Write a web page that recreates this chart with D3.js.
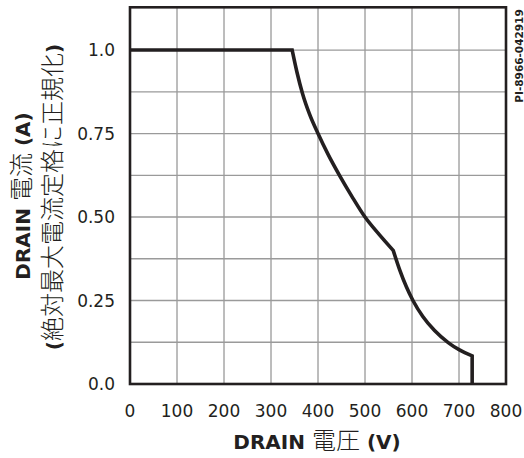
<!DOCTYPE html>
<html>
<head>
<meta charset="utf-8">
<script src="https://cdn.jsdelivr.net/npm/d3@7"></script>
<style>
  body { margin: 0; background: #fff; }
  svg { display: block; }
</style>
</head>
<body>
<svg id="chart" width="524" height="458"></svg>
<script>
// data (V = drain voltage, I = normalised drain current)
const flatV = [0, 345];
const flatI = [1.0, 1.0];
const seg1V = [345, 355, 367, 382, 400, 422, 446, 472, 500, 530, 560];
const seg1I = [1.0, 0.935, 0.870, 0.808, 0.750, 0.686, 0.624, 0.562, 0.500, 0.448, 0.400];
const seg2V = [560, 574, 588, 602, 623, 648, 677, 701, 728];
const seg2I = [0.400, 0.341, 0.291, 0.250, 0.202, 0.160, 0.124, 0.102, 0.084];
const dropV = [728, 728];
const dropI = [0.084, 0];

const xTicks = [0, 100, 200, 300, 400, 500, 600, 700, 800];
const yTicks = [0, 0.25, 0.5, 0.75, 1.0];
const yTickLabels = ["0.0", "0.25", "0.50", "0.75", "1.0"];
const yGrid = [0.125, 0.25, 0.375, 0.5, 0.625, 0.75, 0.875, 1.0];

const left_margin = 130, right_edge = 506, top_edge = 7.3, bottom_edge = 384;
const ink = "#231f20";
const latin = "'DejaVu Sans', Verdana, sans-serif";
const cjk = "'Noto Sans CJK JP', sans-serif";

const svg = d3.select("#chart");

const x = d3.scaleLinear().domain([0, 800]).range([left_margin, right_edge]);
const y = d3.scaleLinear().domain([0, 1.128]).range([bottom_edge, top_edge]);

//grid lines
svg.append("g").selectAll("line")
    .data(xTicks.slice(1, -1))
    .enter().append("line")
    .attr("x1", d => x(d)).attr("x2", d => x(d))
    .attr("y1", top_edge).attr("y2", bottom_edge)
    .attr("stroke", "#7a7a7a").attr("stroke-width", 1);
svg.append("g").selectAll("line")
    .data(yGrid)
    .enter().append("line")
    .attr("x1", left_margin).attr("x2", right_edge)
    .attr("y1", d => y(d)).attr("y2", d => y(d))
    .attr("stroke", "#9a9a9a").attr("stroke-width", 1.3);

//curve: straight pieces + smooth pieces joined in one path
const lineLin = d3.line().x(d => x(d[0])).y(d => y(d[1]));
const lineMono = d3.line().x(d => x(d[0])).y(d => y(d[1])).curve(d3.curveMonotoneX);
const pts = (vs, is) => vs.map((v, i) => [v, is[i]]);
let pathD = lineLin(pts(flatV, flatI));
pathD += "L" + lineMono(pts(seg1V, seg1I)).slice(1);
pathD += "L" + lineMono(pts(seg2V, seg2I)).slice(1);
pathD += "L" + lineLin(pts(dropV, dropI)).slice(1);
svg.append("path")
    .attr("d", pathD)
    .attr("fill", "none")
    .attr("stroke", ink)
    .attr("stroke-width", 3.6)
    .attr("stroke-linejoin", "miter");

//frame
svg.append("rect")
    .attr("x", left_margin).attr("y", top_edge)
    .attr("width", right_edge - left_margin).attr("height", bottom_edge - top_edge)
    .attr("fill", "none").attr("stroke", ink).attr("stroke-width", 2.6);

//tick labels
svg.append("g").selectAll("text")
    .data(xTicks)
    .enter().append("text")
    .attr("x", d => x(d)).attr("y", 417)
    .attr("text-anchor", "middle")
    .attr("font-family", latin).attr("font-size", 17)
    .attr("fill", ink)
    .text(d => d);
svg.append("g").selectAll("text")
    .data(yTicks)
    .enter().append("text")
    .attr("x", 115).attr("y", d => y(d) + 6)
    .attr("text-anchor", "end")
    .attr("font-family", latin).attr("font-size", 17)
    .attr("fill", ink)
    .text((d, i) => yTickLabels[i]);

//axis titles
function addTitle(sel, parts) {
    parts.forEach(p => {
        sel.append("tspan")
            .attr("font-family", p[1] ? cjk : latin)
            .attr("font-weight", p[2] ? "bold" : "300")
            .attr("font-size", p[1] ? 24 : 20)
            .text(p[0]);
    });
}
const xTitle = svg.append("text")
    .attr("x", 317).attr("y", 449)
    .attr("text-anchor", "middle").attr("fill", ink);
addTitle(xTitle, [["DRAIN ", false, true], ["電圧", true, false], [" (V)", false, true]]);

const yTitle1 = svg.append("text")
    .attr("transform", "translate(30,196) rotate(-90)")
    .attr("text-anchor", "middle").attr("fill", ink);
addTitle(yTitle1, [["DRAIN ", false, true], ["電流", true, false], [" (A)", false, true]]);

const yTitle2 = svg.append("text")
    .attr("transform", "translate(61,197) rotate(-90)")
    .attr("text-anchor", "middle").attr("fill", ink);
addTitle(yTitle2, [["(", false, true], ["絶対最大電流定格に正規化", true, false], [")", false, true]]);

//part number
svg.append("text")
    .attr("transform", "translate(523,56) rotate(-90)")
    .attr("text-anchor", "middle")
    .attr("font-family", latin).attr("font-weight", "bold").attr("font-size", 10.5)
    .attr("fill", ink)
    .text("PI-8966-042919");
</script>
</body>
</html>
